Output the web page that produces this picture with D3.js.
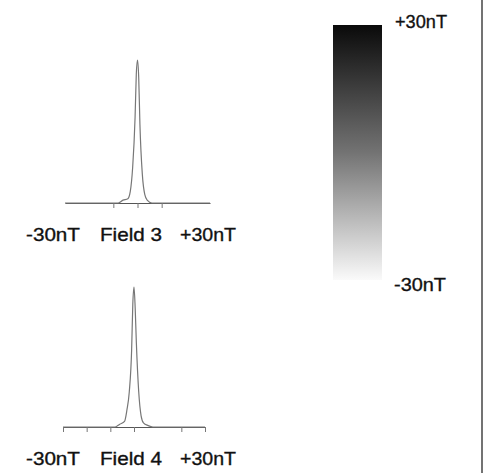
<!DOCTYPE html>
<html>
<head>
<meta charset="utf-8">
<script src="https://cdn.jsdelivr.net/npm/d3@7"></script>
<style>
  body { margin: 0; background: #fff; }
  svg { display: block; }
  text { font-family: "Liberation Sans", Arial, sans-serif; fill: #111; stroke: #111; stroke-width: 0.35; }
</style>
</head>
<body>
<svg id="chart" width="484" height="473"></svg>
<script>
// Field values in nT and relative counts (peak = 100)
const field3X = [-30, -8, -6, -4, -3, -2, -1, -0.5, 0, 0.5, 1, 2, 3, 4, 6, 30];
const field3Y = [0, 0, 2, 3, 8, 25, 60, 90, 100, 88, 55, 20, 6, 2, 0, 0];
const field3Ticks = [-10, 0, 10];

const field4X = [-30, -8, -6, -4, -3, -2, -1, -0.5, 0, 0.5, 1, 2, 3, 4, 6, 8, 30];
const field4Y = [0, 0, 2, 4, 12, 25, 55, 88, 100, 85, 60, 25, 8, 3, 1, 0, 0];
const field4Ticks = [-30, -20, -10, 0, 20, 30];

const panelLabels = ["-30nT", "Field 3", "+30nT", "Field 4"];
const rangeLabels = ["+30nT", "-30nT"];

const svg = d3.select("#chart");

// right frame edge
svg.append("line")
    .attr("x1", 482).attr("x2", 482)
    .attr("y1", 0).attr("y2", 473)
    .style("stroke", "#444")
    .style("stroke-width", 1.5);

function drawPanel(xs, ys, ticks, left, right, base, top, outer, name) {
    const x = d3.scaleLinear().domain([-30, 30]).range([left, right]);
    const y = d3.scaleLinear().domain([0, 100]).range([base, top]);

    const axis = d3.axisBottom(x)
        .tickValues(ticks)
        .tickSize(5)
        .tickSizeOuter(outer ? 5 : 0)
        .tickFormat("");
    const g = svg.append("g")
        .attr("transform", `translate(0,${base})`)
        .call(axis);
    g.select(".domain").style("stroke", "#555");
    g.selectAll(".tick line").style("stroke", "#777");

    const pts = xs.map((v, i) => [v, ys[i]]);
    svg.append("path")
        .datum(pts)
        .attr("d", d3.line().x(d => x(d[0])).y(d => y(d[1])).curve(d3.curveMonotoneX))
        .style("fill", "none")
        .style("stroke", "#777")
        .style("stroke-width", 1.2);

    const ly = base + 38;
    const labels = [
        {t: panelLabels[0], cx: 53, w: 54},
        {t: name, cx: 131, w: 62},
        {t: panelLabels[2], cx: 208, w: 56}
    ];
    labels.forEach(l => {
        svg.append("text")
            .attr("x", l.cx - l.w / 2)
            .attr("y", ly)
            .attr("textLength", l.w)
            .attr("lengthAdjust", "spacingAndGlyphs")
            .style("font-size", "19px")
            .text(l.t);
    });
}

drawPanel(field3X, field3Y, field3Ticks, 65, 210, 203, 60, false, panelLabels[1]);
drawPanel(field4X, field4Y, field4Ticks, 63, 205, 427, 287, true, panelLabels[3]);

// colour bar
const defs = svg.append("defs");
const grad = defs.append("linearGradient")
    .attr("id", "bar")
    .attr("x1", 0).attr("x2", 0).attr("y1", 0).attr("y2", 1);
grad.append("stop").attr("offset", "0%").attr("stop-color", "#0a0a0a");
grad.append("stop").attr("offset", "50%").attr("stop-color", "#737373");
grad.append("stop").attr("offset", "100%").attr("stop-color", "#fafafa");

const barScale = d3.scaleLinear().domain([30, -30]).range([25, 280]);
svg.append("rect")
    .attr("x", 333)
    .attr("y", barScale(30))
    .attr("width", 49)
    .attr("height", barScale(-30) - barScale(30))
    .style("fill", "url(#bar)");

svg.append("text")
    .attr("x", 395).attr("y", 28)
    .attr("textLength", 52)
    .attr("lengthAdjust", "spacingAndGlyphs")
    .style("font-size", "19px")
    .text(rangeLabels[0]);
svg.append("text")
    .attr("x", 394).attr("y", 291)
    .attr("textLength", 52)
    .attr("lengthAdjust", "spacingAndGlyphs")
    .style("font-size", "19px")
    .text(rangeLabels[1]);
</script>
</body>
</html>
